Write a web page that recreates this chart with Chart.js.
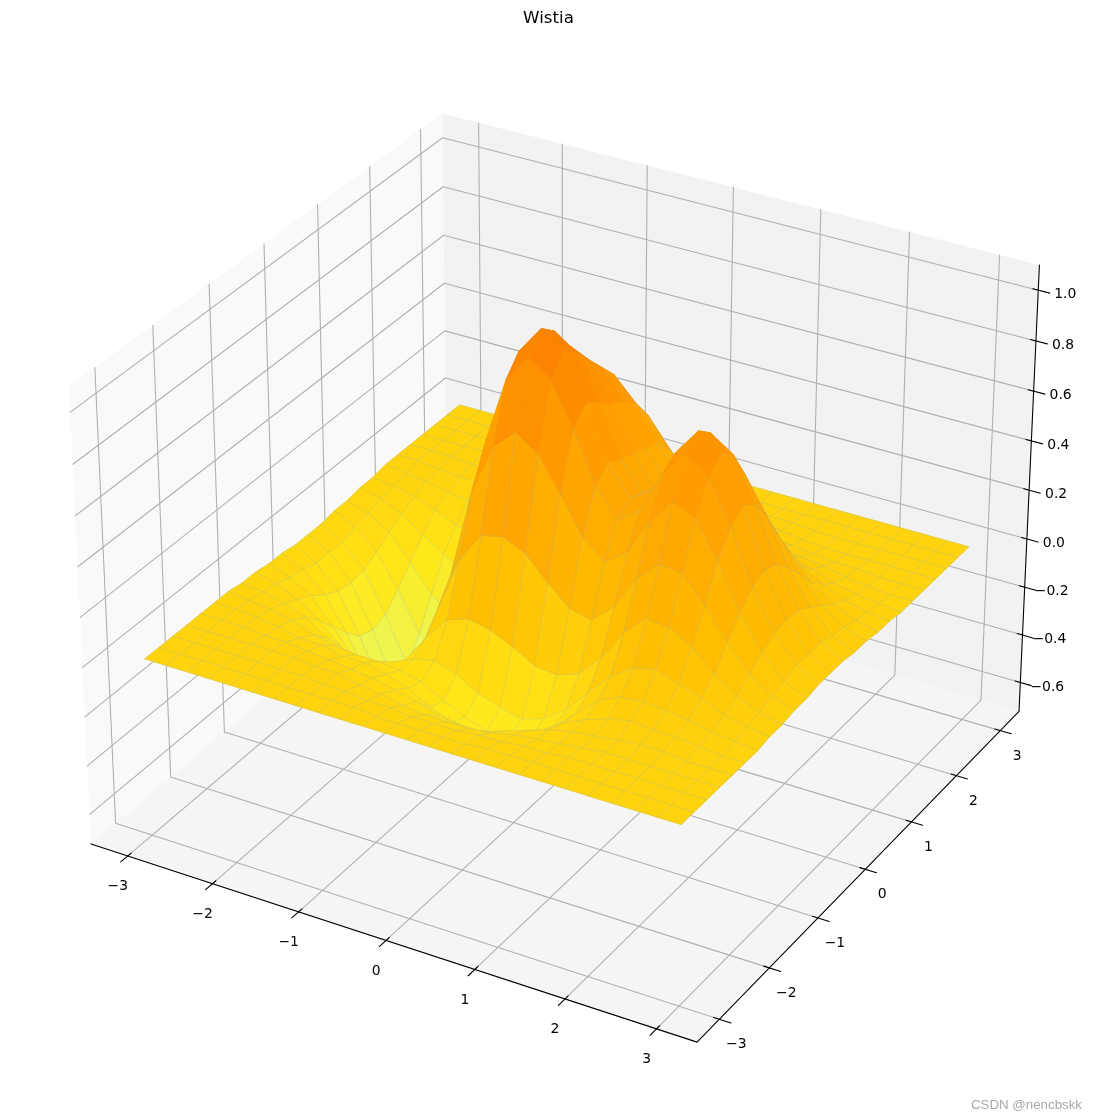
<!DOCTYPE html>
<html>
<head>
<meta charset="utf-8">
<title>Wistia</title>
<script src="https://cdn.jsdelivr.net/npm/chart.js@4"></script>
<style>
  html, body { margin: 0; padding: 0; background: #fff; }
  canvas { display: block; }
</style>
</head>
<body>
<canvas id="surface" width="1097" height="1120"></canvas>
<script>
const xGrid = [-3,-2.75,-2.5,-2.25,-2,-1.75,-1.5,-1.25,-1,-0.75,-0.5,-0.25,0,0.25,0.5,0.75,1,1.25,1.5,1.75,2,2.25,2.5,2.75,3];
const yGrid = [-3,-2.75,-2.5,-2.25,-2,-1.75,-1.5,-1.25,-1,-0.75,-0.5,-0.25,0,0.25,0.5,0.75,1,1.25,1.5,1.75,2,2.25,2.5,2.75,3];

// one row per yGrid value
const zRows = [
  [0,0,0,0,0,0,0,0,0,0,0,0,0,0,0,0,0,0,0,0,0,0,0,0,0],
  [0,0,0,0,0,0,0,0,0,0,-.01,-.01,-.01,-.01,-.01,0,0,0,0,0,0,0,0,0,0],
  [0,0,0,0,0,0,0,-.01,-.01,-.02,-.02,-.03,-.03,-.03,-.02,-.02,-.01,-.01,0,0,0,0,0,0,0],
  [0,0,0,0,0,0,-.01,-.01,-.03,-.04,-.06,-.07,-.07,-.07,-.06,-.04,-.03,-.02,-.01,0,0,0,0,0,0],
  [0,0,0,-.01,-.01,-.02,-.03,-.04,-.05,-.07,-.09,-.12,-.13,-.13,-.10,-.07,-.04,-.02,-.01,0,.01,.01,0,0,0],
  [0,0,-.01,-.02,-.04,-.04,-.06,-.06,-.08,-.11,-.16,-.19,-.20,-.20,-.17,-.12,-.06,-.02,.01,.03,.02,.02,.01,0,0],
  [0,-.01,-.02,-.04,-.07,-.09,-.10,-.10,-.11,-.13,-.18,-.22,-.25,-.24,-.22,-.15,-.07,.01,.05,.06,.05,.04,.02,.01,0],
  [-.01,-.02,-.04,-.07,-.13,-.16,-.18,-.15,-.11,-.09,-.12,-.17,-.20,-.22,-.19,-.13,-.03,.06,.12,.14,.11,.08,.04,.02,.01],
  [-.01,-.03,-.07,-.13,-.21,-.27,-.27,-.19,-.07,.03,.06,.04,0,-.05,-.06,-.03,.06,.19,.27,.26,.21,.13,.07,.03,.01],
  [-.02,-.05,-.10,-.20,-.31,-.40,-.38,-.22,.01,.23,.35,.37,.33,.24,.16,.14,.22,.36,.44,.43,.33,.21,.11,.05,.02],
  [-.02,-.06,-.14,-.27,-.43,-.53,-.49,-.25,.10,.46,.66,.74,.68,.55,.40,.33,.39,.54,.64,.60,.46,.28,.15,.06,.02],
  [-.03,-.08,-.17,-.33,-.52,-.64,-.58,-.28,.17,.60,.88,.99,.93,.76,.56,.45,.51,.68,.78,.72,.55,.34,.18,.08,.03],
  [-.03,-.08,-.18,-.35,-.55,-.68,-.62,-.30,.18,.65,.95,1.06,1.00,.82,.61,.49,.55,.72,.83,.77,.59,.36,.19,.08,.03],
  [-.03,-.08,-.17,-.33,-.52,-.64,-.58,-.28,.18,.62,.90,1.01,.95,.78,.58,.47,.53,.68,.78,.72,.55,.34,.18,.08,.03],
  [-.02,-.06,-.14,-.27,-.43,-.53,-.47,-.21,.18,.57,.82,.92,.88,.73,.56,.44,.47,.58,.66,.60,.46,.28,.15,.06,.02],
  [-.02,-.05,-.10,-.20,-.31,-.38,-.32,-.12,.19,.51,.73,.83,.81,.70,.54,.42,.40,.46,.50,.45,.34,.21,.11,.05,.02],
  [-.01,-.03,-.07,-.13,-.19,-.23,-.19,-.03,.21,.45,.64,.74,.74,.65,.52,.39,.34,.35,.35,.30,.23,.13,.07,.03,.01],
  [-.01,-.02,-.04,-.07,-.11,-.12,-.08,.03,.19,.37,.52,.61,.62,.56,.45,.33,.27,.24,.22,.18,.13,.08,.04,.02,.01],
  [0,-.01,-.02,-.04,-.05,-.05,-.02,.04,.15,.27,.38,.44,.47,.42,.34,.25,.19,.15,.13,.10,.07,.04,.02,.01,0],
  [0,0,-.01,-.02,-.02,-.02,0,.04,.10,.17,.24,.29,.30,.28,.23,.16,.12,.08,.07,.05,.04,.02,.01,0,0],
  [0,0,0,-.01,-.01,0,.01,.02,.05,.09,.13,.16,.17,.15,.12,.09,.06,.04,.03,.02,.01,.01,0,0,0],
  [0,0,0,0,0,0,.01,.01,.03,.04,.06,.07,.07,.07,.06,.04,.03,.02,.01,0,0,0,0,0,0],
  [0,0,0,0,0,0,0,.01,.01,.02,.02,.03,.03,.03,.02,.02,.01,.01,0,0,0,0,0,0,0],
  [0,0,0,0,0,0,0,0,0,0,.01,.01,.01,.01,.01,0,0,0,0,0,0,0,0,0,0],
  [0,0,0,0,0,0,0,0,0,0,0,0,0,0,0,0,0,0,0,0,0,0,0,0,0]
];

const xTicks = [-3,-2,-1,0,1,2,3];
const yTicks = [-3,-2,-1,0,1,2,3];
const zTicks = [-0.6,-0.4,-0.2,0,0.2,0.4,0.6,0.8,1.0];
const titleText = 'Wistia';
const watermark = 'CSDN @nencbskk';

// Wistia colormap stops
const wistia = [[228,255,122],[255,232,26],[255,189,0],[255,160,0],[252,127,0]];
const zMin = -0.63, zMax = 1.06;

// view limits, same as a default 3d axes
const xyLim = 3.3;
const zLo = -0.686, zHi = 1.062;
const zPad = (zHi - zLo) / 48;
const xyPad = xyLim * 2 / 48;
const boxHalf = [0.5714, 0.5714, 0.4286];
const camU = [0.866, 0.5, 0];
const camV = [-0.25, 0.433, 0.866];
const camW = [0.433, -0.75, 0.5];

const W = 1097, H = 1120;
const sx = 5832, sy = 5840, ox = 563.6, oy = 555.5;
const titleH = 36.5;

function world(x, y, z) {
  return [
    x / xyLim * boxHalf[0],
    y / xyLim * boxHalf[1],
    ((z - zLo) / (zHi - zLo) - 0.5) * 2 * boxHalf[2]
  ];
}
const dot = (a, b) => a[0] * b[0] + a[1] * b[1] + a[2] * b[2];

function proj(x, y, z) {
  const q = world(x, y, z);
  const d = 10 - dot(q, camW);
  return { x: dot(q, camU) / d, y: dot(q, camV) / d };
}
const depth = (x, y, z) => dot(world(x, y, z), camW);

function wistiaColor(z) {
  const t = Math.min(1, Math.max(0, (z - zMin) / (zMax - zMin))) * 4;
  const i = Math.min(3, Math.floor(t));
  const f = t - i;
  const c = wistia[i].map((v, k) => Math.round(v + (wistia[i + 1][k] - v) * f));
  return `rgb(${c[0]},${c[1]},${c[2]})`;
}

const xA = -xyLim - xyPad, xB = xyLim + xyPad;
const yA = -xyLim - xyPad, yB = xyLim + xyPad;
const zA = zLo - zPad, zB = zHi + zPad;

function poly(points, fillColor) {
  return { data: points, showLine: true, fill: 'shape', backgroundColor: fillColor,
    borderWidth: 0, borderColor: fillColor, pointRadius: 0, tension: 0 };
}
function line(points, color, width) {
  return { data: points, showLine: true, fill: false, borderColor: color,
    borderWidth: width, pointRadius: 0, tension: 0 };
}

const sets = [];

// panes
sets.push(poly([proj(xA,yA,zA),proj(xA,yB,zA),proj(xA,yB,zB),proj(xA,yA,zB),proj(xA,yA,zA)], '#f9f9f9'));
sets.push(poly([proj(xA,yB,zA),proj(xB,yB,zA),proj(xB,yB,zB),proj(xA,yB,zB),proj(xA,yB,zA)], '#f2f2f2'));
sets.push(poly([proj(xA,yA,zA),proj(xB,yA,zA),proj(xB,yB,zA),proj(xA,yB,zA),proj(xA,yA,zA)], '#f5f5f5'));

// grid
const gridColor = '#b0b0b0';
xTicks.forEach(t => sets.push(line([proj(t,yA,zA),proj(t,yB,zA),proj(t,yB,zB)], gridColor, 1.1)));
yTicks.forEach(t => sets.push(line([proj(xB,t,zA),proj(xA,t,zA),proj(xA,t,zB)], gridColor, 1.1)));
zTicks.forEach(t => sets.push(line([proj(xA,yA,t),proj(xA,yB,t),proj(xB,yB,t)], gridColor, 1.1)));

// axis lines and ticks
sets.push(line([proj(xA,yA,zA),proj(xB,yA,zA),proj(xB,yB,zA),proj(xB,yB,zB)], '#000', 1.1));
xTicks.forEach(t => sets.push(line([proj(t,yA-0.125,zA),proj(t,yA+0.06,zA)], '#000', 1.1)));
yTicks.forEach(t => sets.push(line([proj(xB+0.125,t,zA),proj(xB-0.06,t,zA)], '#000', 1.1)));
zTicks.forEach(t => sets.push(line([proj(xB+0.125,yB,t),proj(xB-0.06,yB,t)], '#000', 1.1)));

// surface faces, far to near
const faces = [];
for (let j = 0; j < yGrid.length - 1; j++) {
  for (let i = 0; i < xGrid.length - 1; i++) {
    const z = (zRows[j][i] + zRows[j][i + 1] + zRows[j + 1][i] + zRows[j + 1][i + 1]) / 4;
    const cx = (xGrid[i] + xGrid[i + 1]) / 2, cy = (yGrid[j] + yGrid[j + 1]) / 2;
    faces.push({ i, j, z, d: depth(cx, cy, z) });
  }
}
faces.sort((a, b) => a.d - b.d);
faces.forEach(f => {
  const { i, j, z } = f;
  const corners = [
    proj(xGrid[i], yGrid[j], zRows[j][i]),
    proj(xGrid[i + 1], yGrid[j], zRows[j][i + 1]),
    proj(xGrid[i + 1], yGrid[j + 1], zRows[j + 1][i + 1]),
    proj(xGrid[i], yGrid[j + 1], zRows[j + 1][i]),
    proj(xGrid[i], yGrid[j], zRows[j][i])
  ];
  const col = wistiaColor(z);
  const face = poly(corners, col);
  face.borderWidth = 0.8;
  sets.push(face);
  const alpha = z > 0.6 ? 0.12 : 0.42;
  sets.push(line(corners, `rgba(130,170,190,${alpha})`, 0.5));
});

// chart.js paints the first dataset last
sets.reverse();

const label3d = {
  id: 'label3d',
  afterDraw(chart) {
    const c = chart.ctx, sX = chart.scales.x, sY = chart.scales.y;
    const put = (p, txt, dx, dy) => c.fillText(txt, sX.getPixelForValue(p.x) + dx, sY.getPixelForValue(p.y) + dy);
    const fmt = v => String(v).replace('-', '\u2212');
    c.save();
    c.fillStyle = '#000';
    c.font = '13.9px "DejaVu Sans"';
    c.textAlign = 'center';
    c.textBaseline = 'middle';
    xTicks.forEach(t => put(proj(t, yA, zA), fmt(t), -10, 30.5));
    yTicks.forEach(t => put(proj(xB, t, zA), fmt(t), 17, 25.5));
    zTicks.forEach(t => put(proj(xB, yB, t), fmt(t.toFixed(1)), 27, 4.5));
    c.fillStyle = '#a8a8a8';
    c.font = '13.3px "Liberation Sans"';
    c.textAlign = 'right';
    c.fillText(watermark, 1082, 1105);
    c.restore();
  }
};

new Chart(document.getElementById('surface').getContext('2d'), {
  type: 'scatter',
  data: { datasets: sets },
  options: {
    responsive: false,
    animation: false,
    layout: { padding: 0 },
    elements: { line: { borderCapStyle: 'round', borderJoinStyle: 'round' } },
    scales: {
      x: { type: 'linear', display: false, min: (0 - ox) / sx, max: (W - ox) / sx },
      y: { type: 'linear', display: false, min: (oy - H) / sy, max: (oy - titleH) / sy }
    },
    plugins: {
      legend: { display: false },
      tooltip: { enabled: false },
      title: {
        display: true,
        text: titleText,
        color: '#000',
        font: { family: 'DejaVu Sans', size: 16.67, weight: 'normal' },
        padding: { top: 8.5, bottom: 8 }
      }
    }
  },
  plugins: [label3d]
});
</script>
</body>
</html>
